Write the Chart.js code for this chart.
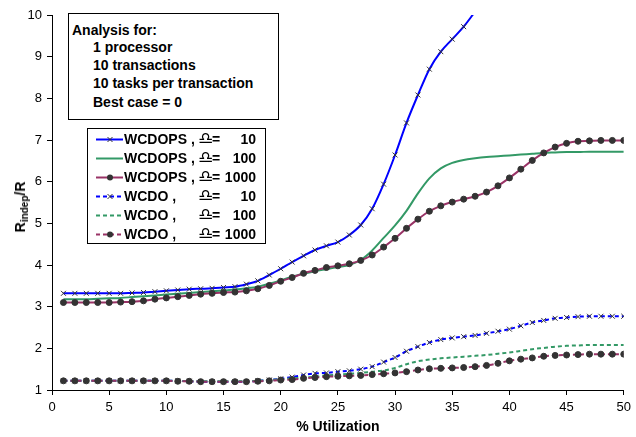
<!DOCTYPE html>
<html><head><meta charset="utf-8">
<script src="https://cdn.jsdelivr.net/npm/chart.js@4.4.0/dist/chart.umd.min.js"></script>
<style>
html,body{margin:0;padding:0;background:#fff;}
#wrap{position:relative;width:636px;height:437px;font-family:"Liberation Sans",Arial,sans-serif;overflow:hidden;}
canvas{position:absolute;left:0;top:0;}
.box{position:absolute;background:#fff;border:1px solid #000;box-sizing:border-box;font-weight:bold;font-size:14px;color:#000;}
#note{left:68px;top:13px;width:211px;height:107px;}
#note div{position:absolute;white-space:nowrap;line-height:16px;}
#legend{left:87px;top:128px;width:179px;height:116px;}
.row{position:absolute;left:0;height:19px;width:100%;line-height:19px;white-space:nowrap;}
.row svg{position:absolute;left:8px;top:0;}
.row .nm{position:absolute;left:36px;}
.row .om{position:absolute;left:110px;top:-1px;font-family:"DejaVu Sans";font-size:17px;font-weight:bold;}
.row .eq{position:absolute;left:124px;}
.row .val{position:absolute;right:9px;}
#ytitle{position:absolute;left:20px;top:207px;transform:translate(-50%,-50%) rotate(-90deg);font-weight:bold;font-size:14px;white-space:nowrap;color:#000;}
#ytitle sub{font-size:10px;vertical-align:-3px;line-height:0;}
</style>
</head><body>
<div id="wrap">
<canvas id="c" width="636" height="437"></canvas>
<div id="ytitle">R<sub>indep</sub>/R</div>
<div id="note" class="box"></div>
<div id="legend" class="box"></div>
</div>
<script>
const noteLines = ["Analysis for:", "1 processor", "10 transactions", "10 tasks per transaction", "Best case = 0"];
const xValues = [1,2,3,4,5,6,7,8,9,10,11,12,13,14,15,16,17,18,19,20,21,22,23,24,25,26,27,28,29,30,31,32,33,34,35,36,37,38,39,40,41,42,43,44,45,46,47,48,49,50];
const seriesNames = ["WCDOPS ,", "WCDOPS ,", "WCDOPS ,", "WCDO ,", "WCDO ,", "WCDO ,"];
const omegaValues = ["10", "100", "1000", "10", "100", "1000"];
const wcdops10 = [3.32,3.32,3.32,3.32,3.32,3.32,3.33,3.34,3.36,3.38,3.40,3.42,3.43,3.44,3.46,3.48,3.54,3.62,3.76,3.91,4.07,4.22,4.36,4.46,4.55,4.72,4.96,5.35,5.94,6.64,7.41,8.08,8.70,9.12,9.42,9.72,10.08];
const wcdops100 = [3.18,3.18,3.18,3.19,3.20,3.21,3.23,3.25,3.27,3.29,3.31,3.33,3.35,3.37,3.39,3.41,3.44,3.48,3.55,3.63,3.72,3.79,3.85,3.90,3.95,4.00,4.12,4.35,4.65,4.95,5.30,5.72,6.08,6.32,6.45,6.52,6.56,6.59,6.61,6.63,6.65,6.67,6.69,6.70,6.71,6.71,6.72,6.72,6.72,6.72];
const wcdops1000 = [3.10,3.10,3.10,3.10,3.10,3.11,3.12,3.14,3.18,3.21,3.24,3.27,3.30,3.32,3.34,3.35,3.38,3.43,3.51,3.61,3.70,3.80,3.87,3.94,3.98,4.03,4.11,4.24,4.43,4.64,4.88,5.10,5.29,5.42,5.51,5.58,5.65,5.75,5.90,6.09,6.30,6.51,6.69,6.83,6.92,6.97,6.98,6.99,6.99,6.99];
const wcdo10 = [1.22,1.22,1.22,1.22,1.22,1.22,1.22,1.22,1.22,1.22,1.22,1.21,1.20,1.20,1.20,1.20,1.20,1.22,1.24,1.27,1.31,1.36,1.40,1.41,1.44,1.46,1.50,1.56,1.67,1.78,1.93,2.04,2.14,2.21,2.25,2.28,2.31,2.36,2.41,2.46,2.54,2.62,2.67,2.72,2.74,2.76,2.77,2.77,2.77,2.77];
const wcdo100 = [1.22,1.22,1.22,1.22,1.22,1.22,1.22,1.22,1.22,1.22,1.22,1.21,1.21,1.21,1.21,1.21,1.21,1.22,1.24,1.26,1.28,1.30,1.32,1.35,1.37,1.39,1.41,1.44,1.47,1.53,1.62,1.69,1.73,1.76,1.78,1.80,1.82,1.84,1.87,1.90,1.94,1.98,2.01,2.04,2.06,2.07,2.08,2.08,2.08,2.08];
const wcdo1000 = [1.22,1.22,1.22,1.22,1.22,1.22,1.22,1.22,1.22,1.22,1.21,1.21,1.20,1.20,1.20,1.20,1.20,1.21,1.22,1.24,1.25,1.28,1.30,1.32,1.33,1.34,1.35,1.37,1.39,1.41,1.44,1.48,1.51,1.52,1.53,1.54,1.56,1.59,1.64,1.70,1.74,1.77,1.81,1.83,1.84,1.85,1.86,1.86,1.86,1.86];
const yTicks = [1,2,3,4,5,6,7,8,9,10];
const xTicks = [0,5,10,15,20,25,30,35,40,45,50];

const FONT = '"Liberation Sans", Arial, sans-serif';
Chart.defaults.font.family = FONT;
const BLUE = '#0000FF', GREEN = '#339966', PURPLE = '#993366', MARK = '#333333';

function pts(arr){ return arr.map((v,i)=>({x:xValues[i], y:v})); }
const styles = [
  {data:wcdops10, color:BLUE, dash:[], marker:'crossRot'},
  {data:wcdops100, color:GREEN, dash:[], marker:null},
  {data:wcdops1000, color:PURPLE, dash:[], marker:'circle'},
  {data:wcdo10, color:BLUE, dash:[4,3], marker:'crossRot'},
  {data:wcdo100, color:GREEN, dash:[4,3], marker:null},
  {data:wcdo1000, color:PURPLE, dash:[4,3], marker:'circle'}
];
const datasets = styles.map((s,i)=>({
  label: seriesNames[i] + ' ' + omegaValues[i],
  data: pts(s.data),
  borderColor: s.color,
  borderWidth: 2,
  borderDash: s.dash,
  fill: false,
  cubicInterpolationMode: 'monotone',
  pointStyle: s.marker || 'circle',
  pointRadius: s.marker ? (ctx => (ctx.raw && ctx.raw.y > 10) ? 0 : (s.marker==='circle'?3:3.5)) : 0,
  pointBackgroundColor: MARK,
  pointBorderColor: MARK,
  pointBorderWidth: 1,
  order: 6 - i
}));

new Chart(document.getElementById('c'), {
  type: 'line',
  data: {datasets},
  options: {
    responsive: false, animation: false,
    layout: {padding: {left: 0, right: 9, top: 15, bottom: 0}},
    plugins: {legend: {display: false}, tooltip: {enabled: false}},
    scales: {
      x: {
        type: 'linear', min: xTicks[0], max: xTicks[xTicks.length-1],
        afterBuildTicks: s => { s.ticks = xTicks.map(v => ({value: v})); },
        ticks: {color: '#000', font: {size: 13}, padding: 5, maxRotation: 0, autoSkip: false},
        grid: {display: true, drawOnChartArea: false, drawTicks: true, tickLength: 5, color: '#000'},
        border: {display: true, color: '#000', width: 1},
        title: {display: true, text: '% Utilization', color: '#000', font: {size: 14, weight: 'bold'}, padding: {top: 0, bottom: 1}},
        afterFit: s => { s.height = 47; }
      },
      y: {
        type: 'linear', min: yTicks[0], max: yTicks[yTicks.length-1],
        afterBuildTicks: s => { s.ticks = yTicks.map(v => ({value: v})); },
        ticks: {color: '#000', font: {size: 13}, padding: 5},
        grid: {display: true, drawOnChartArea: false, drawTicks: true, tickLength: 5, color: '#000'},
        border: {display: true, color: '#000', width: 1},
        afterFit: s => { s.width = 52; }
      }
    }
  }
});

// annotation box
const note = document.getElementById('note');
noteLines.forEach((t,i)=>{
  const d = document.createElement('div');
  d.textContent = t;
  d.style.left = (i===0 ? 3 : 24) + 'px';
  d.style.top = [8,25,43,61,80][i] + 'px';
  note.appendChild(d);
});

// legend
const legend = document.getElementById('legend');
styles.forEach((s,i)=>{
  const row = document.createElement('div');
  row.className = 'row';
  row.style.top = (1 + i*19) + 'px';
  const dash = s.dash.length ? ` stroke-dasharray="${s.dash.join(' ')}"` : '';
  let mk = '';
  if (s.marker === 'circle') mk = `<circle cx="14" cy="9.5" r="3" fill="${MARK}"/>`;
  if (s.marker === 'crossRot') mk = `<path d="M11.5 7 L16.5 12 M16.5 7 L11.5 12" stroke="${MARK}" stroke-width="1"/>`;
  row.innerHTML = `<svg width="27" height="19"><line x1="0" y1="9.5" x2="27" y2="9.5" stroke="${s.color}" stroke-width="2"${dash}/>${mk}</svg>` +
    `<span class="nm">${seriesNames[i]}</span><span class="om">\u264E\uFE0E</span><span class="eq">=</span><span class="val">${omegaValues[i]}</span>`;
  legend.appendChild(row);
});
</script>
</body></html>
